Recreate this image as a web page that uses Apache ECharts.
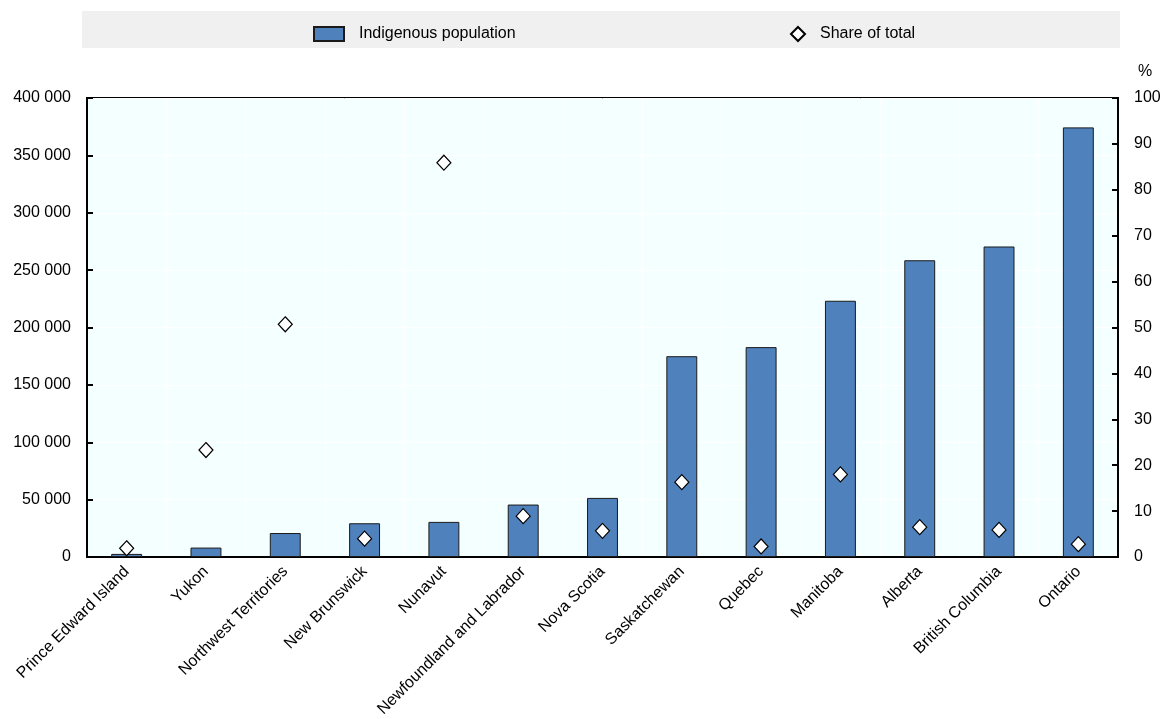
<!DOCTYPE html>
<html>
<head>
<meta charset="utf-8">
<script src="https://cdn.jsdelivr.net/npm/echarts@6/dist/echarts.min.js"></script>
<style>html,body{margin:0;padding:0;background:#fff}#c{width:1166px;height:719px}</style>
</head>
<body>
<div id="c"></div>
<script>
const provinces = ['Prince Edward Island','Yukon','Northwest Territories','New Brunswick','Nunavut','Newfoundland and Labrador','Nova Scotia','Saskatchewan','Quebec','Manitoba','Alberta','British Columbia','Ontario'];
const indigenousPopulation = [2700, 8200, 20900, 29400, 30600, 45700, 51500, 175000, 182900, 223300, 258600, 270600, 374400];
const shareOfTotal = [1.9, 23.3, 50.7, 4.0, 85.9, 8.9, 5.7, 16.3, 2.3, 18.0, 6.5, 5.9, 2.8];
const leftTicks = {min: 0, max: 400000, interval: 50000};
const rightTicks = {min: 0, max: 100, interval: 10};

const FONT = "'Liberation Sans', Arial, sans-serif";
const FS = 16;
const chart = echarts.init(document.getElementById('c'), null, {renderer: 'canvas'});
const fmt = v => String(v).replace(/\B(?=(\d{3})+(?!\d))/g, ' ');

chart.setOption({
  animation: false,
  textStyle: {fontFamily: FONT, color: '#000'},
  graphic: [{
    type: 'rect', left: 82, top: 11, z: -10,
    shape: {width: 1038, height: 37},
    style: {fill: '#F0F0F0'}
  }],
  legend: [{
    data: [{name: 'Indigenous population', icon: 'rect'}], left: 313, top: 26,
    itemWidth: 30, itemHeight: 14, padding: 0,
    textStyle: {fontFamily: FONT, fontSize: FS, color: '#000', padding: [0,0,0,10]}
  }, {
    data: [{name: 'Share of total', icon: 'diamond'}], left: 790, top: 26,
    itemWidth: 14, itemHeight: 14, padding: 0,
    textStyle: {fontFamily: FONT, fontSize: FS, color: '#000', padding: [0,0,0,10]}
  }],
  grid: {
    left: 87, right: 48, top: 98, bottom: 162,
    containLabel: false, outerBoundsMode: 'none',
    show: true, backgroundColor: '#F4FFFF', borderColor: '#000', borderWidth: 2
  },
  xAxis: {
    type: 'category', data: provinces, boundaryGap: true,
    axisLine: {lineStyle: {color: '#000', width: 2}},
    axisTick: {inside: true, length: 6, lineStyle: {color: '#000', width: 2}},
    splitLine: {show: true, lineStyle: {color: '#FFFFFF', width: 1}},
    axisLabel: {rotate: 45, fontSize: FS, color: '#000', margin: 12, interval: 0, fontFamily: FONT}
  },
  yAxis: [{
    type: 'value', min: leftTicks.min, max: leftTicks.max, interval: leftTicks.interval,
    axisLine: {show: true, lineStyle: {color: '#000', width: 2}},
    axisTick: {show: true, inside: true, length: 6, lineStyle: {color: '#000', width: 2}},
    splitLine: {show: true, lineStyle: {color: '#FFFFFF', width: 1}},
    axisLabel: {fontSize: FS, color: '#000', margin: 16, formatter: fmt, fontFamily: FONT}
  }, {
    type: 'value', min: rightTicks.min, max: rightTicks.max, interval: rightTicks.interval,
    position: 'right', name: '%', nameLocation: 'end', nameGap: 18,
    nameTextStyle: {fontSize: FS, color: '#000', align: 'left', padding: [0,0,0,20], fontFamily: FONT},
    axisLine: {show: true, lineStyle: {color: '#000', width: 2}},
    axisTick: {show: true, inside: true, length: 6, lineStyle: {color: '#000', width: 2}},
    splitLine: {show: false},
    axisLabel: {fontSize: FS, color: '#000', margin: 16, fontFamily: FONT}
  }],
  series: [{
    name: 'Indigenous population', type: 'bar', data: indigenousPopulation,
    barWidth: '39%', yAxisIndex: 0,
    itemStyle: {color: '#4F81BD', borderColor: '#1A1A1A', borderWidth: 1}
  }, {
    name: 'Share of total', type: 'scatter', data: shareOfTotal, yAxisIndex: 1,
    symbol: 'diamond', symbolSize: [14, 15], z: 5,
    itemStyle: {color: '#FFFFFF', borderColor: '#000', borderWidth: 1.2, opacity: 1}
  }]
});
</script>
</body>
</html>
